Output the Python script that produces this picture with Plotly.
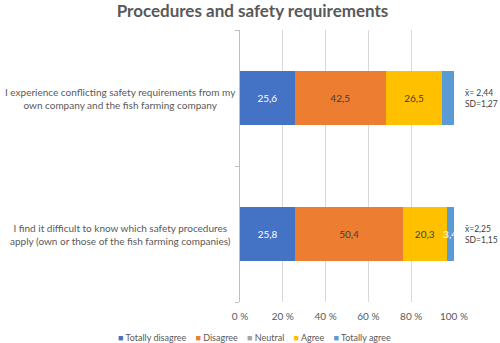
import plotly.graph_objects as go

# Survey statements (top to bottom)
statements = [
    "I experience conflicting safety requirements from my<br>own company and the fish farming company",
    "I find it difficult to know which safety procedures<br>apply (own or those of the fish farming companies)",
]

# Response shares in percent, per answer category
series_names = ["Totally disagree", "Disagree", "Neutral", "Agree", "Totally agree"]
totally_disagree = [25.6, 25.8]
disagree = [42.5, 50.4]
neutral = [0.0, 0.0]
agree = [26.5, 20.3]
totally_agree = [5.5, 3.4]

# Mean and standard deviation per statement
means = ["2,44", "2,25"]
sds = ["1,27", "1,15"]
mean_sep = [" ", ""]

# Percent axis ticks
x_ticks = [0, 20, 40, 60, 80, 100]

colors = ["#4472C4", "#ED7D31", "#A5A5A5", "#FFC000", "#5B9BD5"]
text_colors = ["#FFFFFF", "#404040", "#404040", "#404040", "#FFFFFF"]

FONT = "Lato"
GREY = "#595959"

values = [totally_disagree, disagree, neutral, agree, totally_agree]
cats = list(range(len(statements)))

fig = go.Figure()
for name, vals, col, tcol in zip(series_names, values, colors, text_colors):
    labels = [f"{v:.1f}".replace(".", ",") if v > 0 else "" for v in vals]
    fig.add_trace(go.Bar(
        y=cats, x=vals, name=name, orientation="h",
        marker=dict(color=col, line=dict(width=0)),
        text=labels, textposition="inside", insidetextanchor="middle",
        textangle=0,
        textfont=dict(family=FONT, size=10, color=tcol),
        cliponaxis=False,
    ))

annotations = []
# Statement labels, centered to the left of the plot
for i, s in enumerate(statements):
    annotations.append(dict(
        xref="paper", yref="y", x=-0.5607, y=i, text=s, showarrow=False,
        xanchor="center", yanchor="middle", align="center",
        font=dict(family=FONT, size=10, color=GREY),
    ))
# Mean / SD labels to the right of each bar
for i, (m, sd, sep) in enumerate(zip(means, sds, mean_sep)):
    annotations.append(dict(
        xref="paper", yref="y", x=1.043, y=i,
        text=f"x\u0304={sep}{m}<br>SD={sd}", showarrow=False,
        xanchor="left", yanchor="middle", align="left",
        font=dict(family=FONT, size=8.5, color="#404040"),
    ))
# Legend row
legend_parts = [
    f'<span style="color:{c}">■</span> {n}' for n, c in zip(series_names, colors)
]
annotations.append(dict(
    xref="paper", yref="paper", x=0.07, y=-0.132,
    text="&nbsp;&nbsp;&nbsp;&nbsp;".join(legend_parts), showarrow=False,
    xanchor="center", yanchor="middle",
    font=dict(family=FONT, size=9, color=GREY),
))

fig.update_layout(
    width=500, height=343,
    margin=dict(l=240, r=46, t=30, b=41),
    paper_bgcolor="white", plot_bgcolor="white",
    barmode="stack", bargap=0.6,
    showlegend=False,
    uniformtext=dict(minsize=10, mode="show"),
    title=dict(
        text="<b>Procedures and safety requirements</b>",
        x=0.505, xanchor="center", y=0.968, yanchor="middle",
        font=dict(family=FONT, size=17, color=GREY),
    ),
    annotations=annotations,
    xaxis=dict(
        range=[0, 100], tickvals=x_ticks,
        ticktext=[f"{t} %" for t in x_ticks],
        showgrid=True, gridcolor="#D9D9D9", gridwidth=1, zeroline=False,
        showline=False, ticks="", fixedrange=True, ticklabelstandoff=7,
        tickfont=dict(family=FONT, size=10, color=GREY),
    ),
    yaxis=dict(
        range=[1.5, -0.5], tickvals=[-0.5, 0.5, 1.5], ticktext=["", "", ""],
        showgrid=False, zeroline=False, showline=True, linecolor="#BFBFBF",
        ticks="outside", ticklen=4, tickcolor="#BFBFBF",
    ),
)

fig.write_html("out.html")
